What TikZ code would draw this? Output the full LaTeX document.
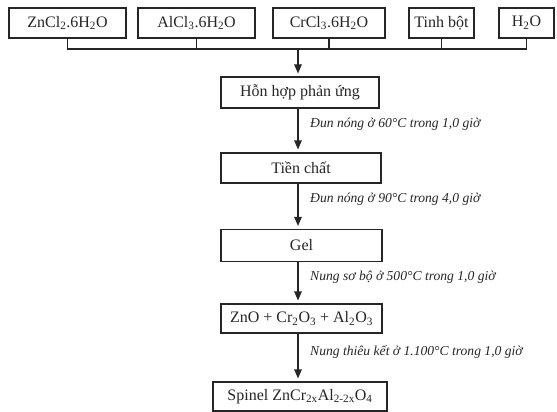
\documentclass[tikz,border=0pt]{standalone}
\usepackage{fontspec}
\setmainfont{Liberation Serif}
\usetikzlibrary{arrows.meta}
\tikzset{
  box/.style={draw=black!85, line width=1.1pt, inner sep=0pt, minimum height=30pt, font=\fontsize{16}{18}\selectfont, text=black!85},
  lbl/.style={anchor=west, inner sep=0pt, font=\fontsize{13.6}{15}\selectfont\itshape, text=black!85},
  conn/.style={draw=black!85, line width=1.1pt},
  arr/.style={conn, -{Triangle[length=9pt,width=7.5pt]}, shorten >=3pt}
}
\begin{document}
\begin{tikzpicture}[x=1pt,y=-1pt]
\useasboundingbox[fill=white] (0,0) rectangle (557,412);
% top inputs
\node[box, minimum width=117pt] (b1) at (67.5,23) {ZnCl\textsubscript{2}.6H\textsubscript{2}O};
\node[box, minimum width=117pt] (b2) at (196.5,23) {AlCl\textsubscript{3}.6H\textsubscript{2}O};
\node[box, minimum width=112pt] (b3) at (329,23) {CrCl\textsubscript{3}.6H\textsubscript{2}O};
\node[box, minimum width=65pt] (b4) at (441.5,23) {Tinh bột};
\node[box, minimum width=55pt] (b5) at (526.5,23) {H\textsubscript{2}O};
% main column
\node[box, minimum width=158pt, minimum height=31pt] (h1) at (300,92.5) {Hỗn hợp phản ứng};
\node[box, minimum width=160pt] (h2) at (301,168) {Tiền chất};
\node[box, minimum width=161pt, minimum height=32pt] (h3) at (301.5,245.5) {Gel};
\node[box, minimum width=161pt, minimum height=29pt] (h4) at (301.5,318.5) {ZnO + Cr\textsubscript{2}O\textsubscript{3} + Al\textsubscript{2}O\textsubscript{3}};
\node[box, minimum width=174pt, minimum height=29pt] (h5) at (300,396.5) {Spinel ZnCr\textsubscript{2x}Al\textsubscript{2-2x}O\textsubscript{4}};
% bus
\coordinate (bus) at (0,49);
\coordinate (j) at (298,49);
\draw[conn] (b1.south) -- (b1.south |- bus) -- (b5.south |- bus) -- (b5.south);
\draw[conn] (b2.south) -- (b2.south |- bus);
\draw[conn] (b3.south) -- (b3.south |- bus);
\draw[conn] (b4.south) -- (b4.south |- bus);
% arrows
\draw[arr] (j) -- (j |- h1.north);
\draw[arr] (h1.south -| j) -- (h2.north -| j);
\draw[arr] (h2.south -| j) -- (h3.north -| j);
\draw[arr] (h3.south -| j) -- (h4.north -| j);
\draw[arr] (h4.south -| j) -- (h5.north -| j);
% labels
\node[lbl] (l1) at (310,124) {Đun nóng ở 60°C trong 1,0 giờ};
\node[lbl] (l2) at (310,199) {Đun nóng ở 90°C trong 4,0 giờ};
\node[lbl] (l3) at (310,277) {Nung sơ bộ ở 500°C trong 1,0 giờ};
\node[lbl] (l4) at (310,352) {Nung thiêu kết ở 1.100°C trong 1,0 giờ};
\end{tikzpicture}
\end{document}
